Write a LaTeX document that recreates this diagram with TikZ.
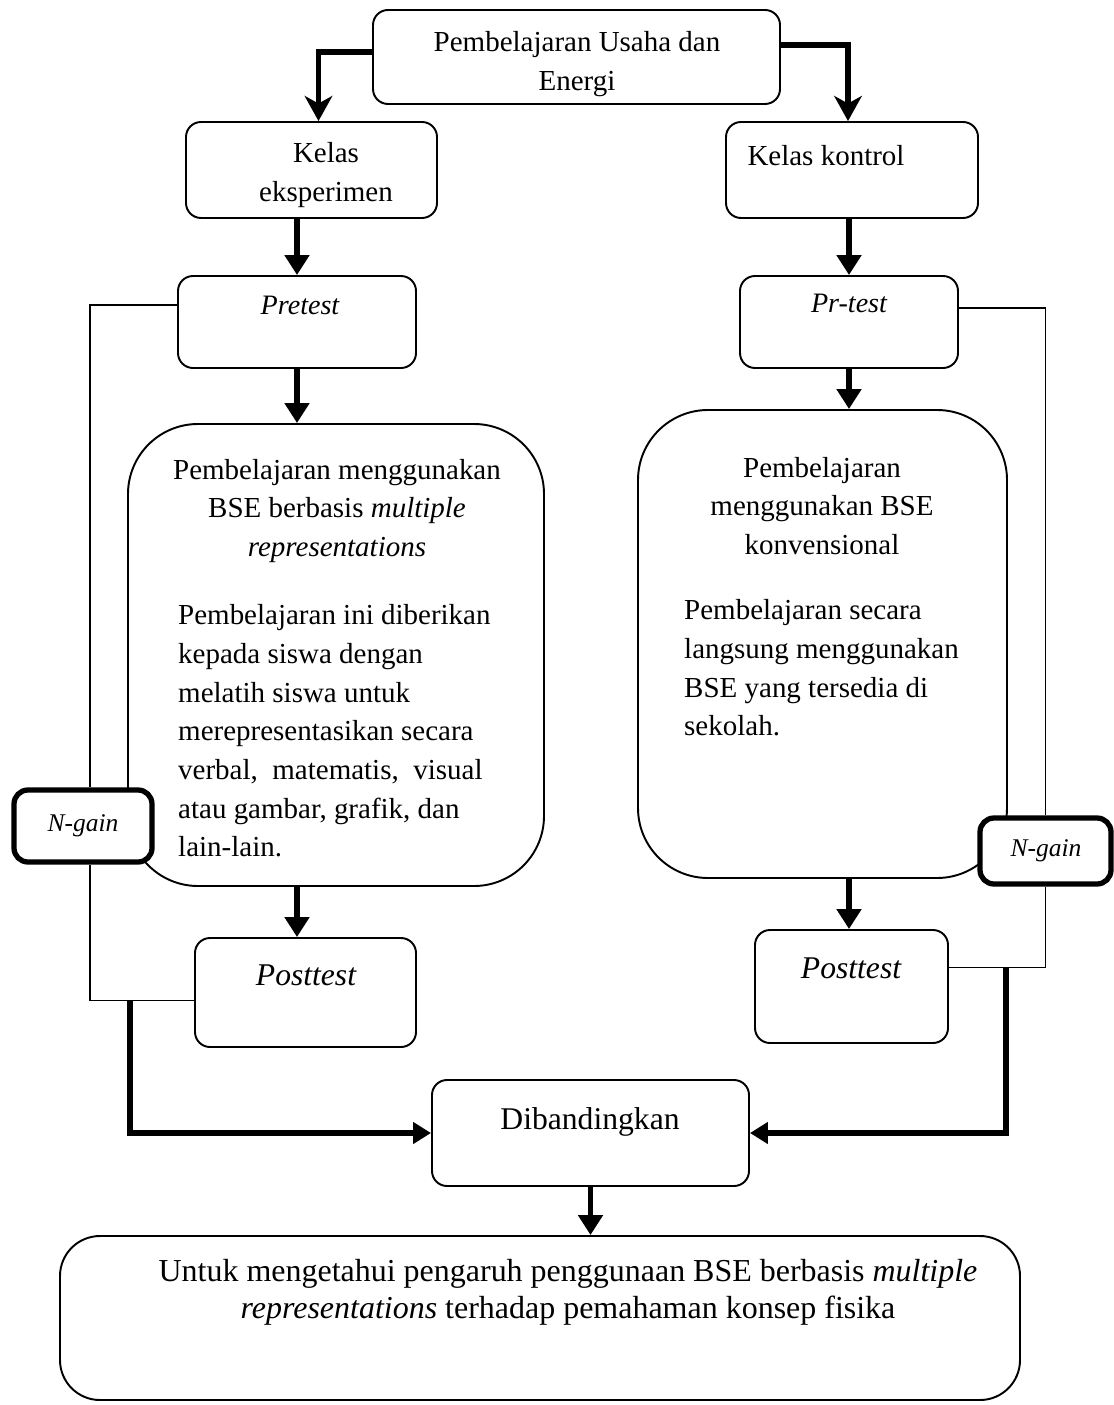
\documentclass[tikz,border=0pt]{standalone}
\usepackage{fontspec}
\setmainfont{Liberation Serif}
\usetikzlibrary{arrows.meta, fit}

\begin{document}
\begin{tikzpicture}[x=0.02cm, y=-0.02cm,
    box/.style={draw, fill=white, line width=1.1pt, inner sep=0pt, rounded corners=0.3cm},
    bigbox/.style={box, rounded corners=1.4cm},
    gainbox/.style={box, line width=3pt, rounded corners=0.28cm},
    txt/.style={font=\fontsize{16.5}{22}\selectfont, align=center},
    link/.style={line width=1.1pt},
    down/.style={line width=3.4pt, -{Triangle[length=0.4cm, width=0.48cm]}},
    side/.style={line width=3.4pt, -{Triangle[length=0.36cm, width=0.42cm]}},
    toparrow/.style={line width=3pt, -{Stealth[length=0.5cm, width=0.55cm, inset=0.15cm]}}]

      \useasboundingbox (0,0) rectangle (1113,1405);

      % Define the boxes
      \node[box, fit={(373,10) (780,104)}] (top) {};
      \node[box, fit={(186,122) (437,218)}] (eks) {};
      \node[box, fit={(726,122) (978,218)}] (kon) {};
      \node[box, fit={(178,276) (416,368)}] (preL) {};
      \node[box, fit={(740,276) (958,368)}] (preR) {};
      \node[bigbox, fit={(128,424) (544,886)}] (bseL) {};
      \node[bigbox, fit={(638,410) (1007,878)}] (bseR) {};
      \node[box, fit={(195,938) (416,1047)}] (postL) {};
      \node[box, fit={(755,930) (948,1043)}] (postR) {};
      \node[gainbox, fit={(14,790) (152,862)}] (gainL) {};
      \node[gainbox, fit={(980,818) (1111,884)}] (gainR) {};
      \node[box, fit={(432,1080) (749,1186)}] (banding) {};
      \node[box, rounded corners=0.8cm, fit={(60,1236) (1020,1400)}] (akhir) {};

      % Texts
      \node[txt] at (577,64) {Pembelajaran Usaha dan\\Energi};
      \node[txt] at (326,175) {Kelas\\eksperimen};
      \node[txt] at (826,156) {Kelas kontrol};
      \node[txt, font=\fontsize{16}{20}\selectfont\itshape] at (300,305) {Pretest};
      \node[txt, font=\fontsize{16}{20}\selectfont\itshape] at (849,303) {Pr-test};
      \node[txt] at (337,511) {Pembelajaran menggunakan\\BSE berbasis \textit{multiple}\\\textit{representations}};
      \node[txt, align=left, anchor=west] at (172,731) {Pembelajaran ini diberikan\\kepada siswa dengan\\melatih siswa untuk\\merepresentasikan secara\\verbal,\ \ matematis,\ \ visual\\atau gambar, grafik, dan\\lain-lain.};
      \node[txt] at (822,506) {Pembelajaran\\menggunakan BSE\\konvensional};
      \node[txt, align=left, anchor=west] at (678,668) {Pembelajaran secara\\langsung menggunakan\\BSE yang tersedia di\\sekolah.};
      \node[txt, font=\fontsize{18}{22}\selectfont\itshape] at (306,975) {Posttest};
      \node[txt, font=\fontsize{18}{22}\selectfont\itshape] at (851,968) {Posttest};
      \node[txt, font=\fontsize{14.5}{18}\selectfont\itshape] at (83,826) {N-gain};
      \node[txt, font=\fontsize{14.5}{18}\selectfont\itshape] at (1046,851) {N-gain};
      \node[txt, font=\fontsize{18}{22}\selectfont] at (590,1122) {Dibandingkan};
      \node[txt, font=\fontsize{18.2}{21}\selectfont] at (568,1292) {Untuk mengetahui pengaruh penggunaan BSE berbasis \textit{multiple}\\\textit{representations} terhadap pemahaman konsep fisika};

      % Top arrows
      \draw[toparrow] ([yshift=0.1cm]top.west) -| ([xshift=0.14cm]eks.north);
      \draw[toparrow] ([yshift=0.24cm]top.east) -| ([xshift=-0.08cm]kon.north);

      % Left column
      \draw[down] (preL.north |- eks.south) -- (preL.north);
      \draw[down] (preL.south) -- (preL.south |- bseL.north);
      \draw[down] (bseL.south -| preL.south) -- (postL.north -| preL.south);

      % Right column
      \draw[down] (preR.north |- kon.south) -- (preR.north);
      \draw[down] (preR.south) -- (preR.south |- bseR.north);
      \draw[down] (bseR.south -| preR.south) -- (postR.north -| preR.south);

      % N-gain lines
      \draw[link] ([yshift=0.34cm]preL.west) -| ([xshift=0.14cm]gainL.north);
      \draw[link] ([xshift=0.14cm]gainL.south) |- ([yshift=-0.16cm]postL.west);
      \draw[link] ([yshift=0.28cm]preR.east) -| (gainR.north);
      \draw[link] (gainR.south) |- ([yshift=0.38cm]postR.east);

      % Compare arrows
      \coordinate (cL) at (130,1000);
      \coordinate (cR) at (1006,967);
      \draw[side] (cL) |- (banding.west);
      \draw[side] (cR) |- (banding.east);
      \draw[down] (banding.south) -- (banding.south |- akhir.north);

\end{tikzpicture}
\end{document}
